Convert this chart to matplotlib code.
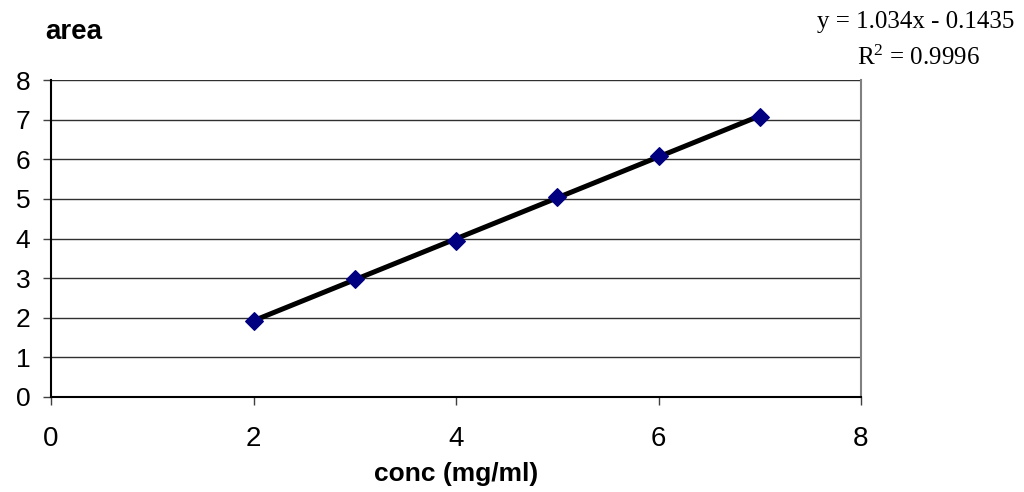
import matplotlib.pyplot as plt
import numpy as np

# calibration data
conc = np.array([2., 3., 4., 5., 6., 7.])          # mg/ml
area = np.array([1.93, 2.98, 3.93, 5.05, 6.08, 7.07])

# trendline coefficients as shown on the chart
slope = 1.034
intercept = -0.1435
r2 = 0.9996

plt.rcParams['font.family'] = ['Liberation Sans', 'DejaVu Sans']

fig = plt.figure(figsize=(10.24, 4.92), dpi=100)
ax = fig.add_axes([51 / 1024, 1 - 397 / 492, 810 / 1024, 317 / 492])

# gridlines
ax.set_axisbelow(True)
ax.yaxis.grid(True, color='#303030', linewidth=1)

# trendline
x = np.linspace(conc.min(), conc.max(), 100)
y = slope * x + intercept
ax.plot(x, y, color='black', linewidth=3.6, zorder=3)

# points
ax.scatter(conc, area, marker='D', s=80, color='#000080', zorder=4)

ax.set_xlim(0, 8)
ax.set_ylim(0, 8)
ax.set_xticks(np.arange(0, 9, 2))
ax.set_yticks(np.arange(0, 9, 1))
ax.tick_params(axis='both', direction='out', length=6, width=1, color='#404040')
ax.tick_params(axis='y', labelsize=19, pad=9)
ax.tick_params(axis='x', labelsize=20, pad=15)

ax.spines['top'].set_visible(False)
ax.spines['right'].set_color('#808080')
ax.spines['right'].set_linewidth(1.5)
ax.spines['left'].set_color('black')
ax.spines['left'].set_linewidth(1.5)
ax.spines['bottom'].set_color('black')
ax.spines['bottom'].set_linewidth(1.5)

fig.text(456 / 1024, 1 - 474 / 492, 'conc (mg/ml)', fontsize=19, fontweight='bold',
         ha='center', va='center')
fig.text(45 / 1024, 1 - 32 / 492, 'area', fontsize=20, fontweight='bold',
         ha='left', va='center')

eq = 'y = %.3fx - %.4f' % (slope, -intercept)
fig.text(916 / 1024, 1 - 22 / 492, eq, fontsize=18, family='Liberation Serif',
         ha='center', va='center')
fig.text(918 / 1024, 1 - 58 / 492, '$\\mathregular{R^2}$ = %.4f' % r2, fontsize=18,
         family='Liberation Serif', ha='center', va='center')

fig.savefig('out.png', dpi=100)
